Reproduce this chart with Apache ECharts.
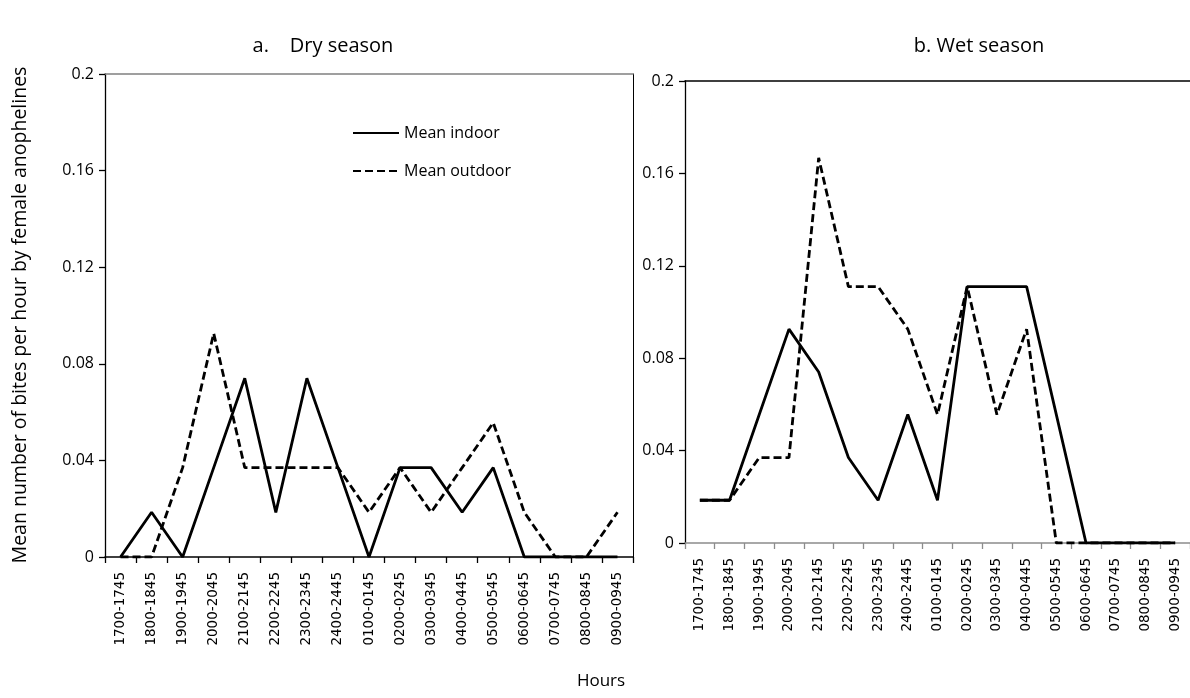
<!DOCTYPE html>
<html>
<head>
<meta charset="utf-8">
<script src="https://cdn.jsdelivr.net/npm/echarts@6/dist/echarts.min.js"></script>
<style>
html,body{margin:0;padding:0;background:#fff;}
#chart{width:1190px;height:698px;}
</style>
</head>
<body>
<div id="chart"></div>
<script>
const hours = ['1700-1745','1800-1845','1900-1945','2000-2045','2100-2145','2200-2245','2300-2345','2400-2445','0100-0145','0200-0245','0300-0345','0400-0445','0500-0545','0600-0645','0700-0745','0800-0845','0900-0945'];
const dryIndoor  = [0, 0.0185, 0, 0.037, 0.074, 0.0185, 0.074, 0.037, 0, 0.037, 0.037, 0.0185, 0.037, 0, 0, 0, 0];
const dryOutdoor = [0, 0, 0.037, 0.0926, 0.037, 0.037, 0.037, 0.037, 0.0185, 0.037, 0.0185, 0.037, 0.0556, 0.0185, 0, 0, 0.0185];
const wetIndoor  = [0.0185, 0.0185, 0.0556, 0.0926, 0.074, 0.037, 0.0185, 0.0556, 0.0185, 0.111, 0.111, 0.111, 0.0556, 0, 0, 0, 0];
const wetOutdoor = [0.0185, 0.0185, 0.037, 0.037, 0.1667, 0.111, 0.111, 0.0926, 0.0556, 0.111, 0.0556, 0.0926, 0, 0, 0, 0, 0];
const yTicks = [0, 0.04, 0.08, 0.12, 0.16, 0.2];
const titles = ['a.    Dry season', 'b. Wet season'];
const yName = 'Mean number of bites per hour by female anophelines';
const xName = 'Hours';
const seriesNames = ['Mean indoor', 'Mean outdoor'];

const FONT = 'Open Sans';
const chart = echarts.init(document.getElementById('chart'), null, {renderer: 'canvas'});

function yAxisBase(gridIndex, lineColor) {
  return {
    type: 'value', gridIndex: gridIndex, min: yTicks[0], max: yTicks[yTicks.length - 1],
    interval: yTicks[1] - yTicks[0],
    splitLine: {show: false},
    axisLine: {show: true, onZero: false, lineStyle: {color: lineColor, width: 1.3}},
    axisTick: {show: true, length: 6, lineStyle: {color: lineColor, width: 1.3}},
    axisLabel: {color: '#000', fontFamily: FONT, fontSize: 16, margin: 11,
      formatter: v => String(+v.toFixed(2))}
  };
}
function xAxisBase(gridIndex, lineColor) {
  return {
    type: 'category', gridIndex: gridIndex, data: hours, boundaryGap: true,
    axisLine: {show: true, onZero: false, lineStyle: {color: lineColor, width: 1.5}},
    axisTick: {show: true, length: 6, lineStyle: {color: lineColor, width: 1.3}},
    axisLabel: {color: '#000', fontFamily: 'DejaVu Sans', fontSize: 13.5, rotate: 90, margin: 15, interval: 0}
  };
}
function borderX(gridIndex, color) {
  return {type: 'category', gridIndex: gridIndex, position: 'top', data: hours, boundaryGap: true,
    axisLine: {show: true, onZero: false, lineStyle: {color: color, width: 1.5}}, axisTick: {show: false}, axisLabel: {show: false}};
}
function borderY(gridIndex, color) {
  return {type: 'value', gridIndex: gridIndex, position: 'right', min: 0, max: 0.2,
    axisLine: {show: true, onZero: false, lineStyle: {color: color, width: 1}}, axisTick: {show: false}, axisLabel: {show: false}, splitLine: {show: false}};
}
function lineSeries(name, data, xi, yi, dashed) {
  return {
    name: name, type: 'line', xAxisIndex: xi, yAxisIndex: yi, data: data,
    symbol: 'none', silent: true, animation: false,
    itemStyle: {color: '#000'},
    lineStyle: {color: '#000', width: 2.8, type: dashed ? [8, 4] : 'solid'}
  };
}

chart.setOption({
  backgroundColor: '#fff',
  animation: false,
  title: [
    {text: titles[0], left: 318, top: 31, textAlign: 'center',
      textStyle: {fontFamily: FONT, fontSize: 20, fontWeight: 'normal', color: '#000'}},
    {text: titles[1], left: 974, top: 31, textAlign: 'center',
      textStyle: {fontFamily: FONT, fontSize: 20, fontWeight: 'normal', color: '#000'}}
  ],
  legend: {
    data: seriesNames, orient: 'vertical', left: 347, top: 120,
    itemWidth: 46, itemHeight: 14, itemGap: 22, selectedMode: false,
    itemStyle: {opacity: 0},
    textStyle: {fontFamily: FONT, fontSize: 16, color: '#000'}
  },
  grid: [
    {left: 105, top: 74, width: 528, height: 483, show: false},
    {left: 685, top: 81, width: 506, height: 462, show: false}
  ],
  xAxis: [
    xAxisBase(0, '#000'),
    borderX(0, '#808080'),
    xAxisBase(1, '#8c8c8c'),
    borderX(1, '#000')
  ],
  yAxis: [
    yAxisBase(0, '#000'),
    borderY(0, '#000'),
    yAxisBase(1, '#000')
  ],
  graphic: [
    {type: 'text', x: 20, y: 315, rotation: Math.PI / 2,
      style: {text: yName, fontFamily: FONT, fontSize: 19.5, fill: '#000', textAlign: 'center', textVerticalAlign: 'middle'}},
    {type: 'text', x: 601, y: 681,
      style: {text: xName, fontFamily: FONT, fontSize: 17, fill: '#000', textAlign: 'center', textVerticalAlign: 'middle'}}
  ],
  series: [
    lineSeries(seriesNames[0], dryIndoor, 0, 0, false),
    lineSeries(seriesNames[1], dryOutdoor, 0, 0, true),
    lineSeries(seriesNames[0], wetIndoor, 2, 2, false),
    lineSeries(seriesNames[1], wetOutdoor, 2, 2, true)
  ]
});
</script>
</body>
</html>
